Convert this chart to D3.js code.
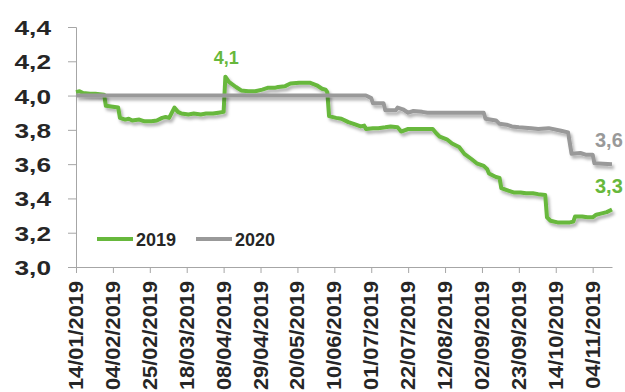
<!DOCTYPE html>
<html>
<head>
<meta charset="utf-8">
<script src="https://cdn.jsdelivr.net/npm/d3@7"></script>
<style>
  html, body { margin: 0; padding: 0; background: #fff; }
  svg { display: block; }
  text { font-family: "Liberation Sans", Arial, sans-serif; font-weight: bold; }
</style>
</head>
<body>
<svg id="chart" width="625" height="392"></svg>
<script>
// 2019 series
const dates2019 = ["2019-01-14","2019-01-16","2019-01-18","2019-01-22","2019-01-25","2019-01-30","2019-01-31","2019-02-04","2019-02-07","2019-02-08","2019-02-11","2019-02-13","2019-02-15","2019-02-19","2019-02-22","2019-02-26","2019-03-01","2019-03-04","2019-03-06","2019-03-08","2019-03-11","2019-03-13","2019-03-15","2019-03-19","2019-03-22","2019-03-26","2019-03-29","2019-04-02","2019-04-05","2019-04-08","2019-04-09","2019-04-11","2019-04-15","2019-04-18","2019-04-22","2019-04-26","2019-04-30","2019-05-03","2019-05-07","2019-05-09","2019-05-13","2019-05-16","2019-05-21","2019-05-27","2019-05-31","2019-06-03","2019-06-05","2019-06-06","2019-06-07","2019-06-11","2019-06-14","2019-06-18","2019-06-21","2019-06-25","2019-06-27","2019-06-28","2019-07-02","2019-07-05","2019-07-09","2019-07-12","2019-07-16","2019-07-18","2019-07-22","2019-07-26","2019-07-31","2019-08-05","2019-08-07","2019-08-09","2019-08-13","2019-08-16","2019-08-20","2019-08-23","2019-08-27","2019-08-30","2019-09-03","2019-09-05","2019-09-06","2019-09-10","2019-09-12","2019-09-13","2019-09-17","2019-09-20","2019-09-24","2019-09-27","2019-10-01","2019-10-04","2019-10-08","2019-10-09","2019-10-11","2019-10-15","2019-10-18","2019-10-22","2019-10-24","2019-10-25","2019-10-29","2019-11-01","2019-11-04","2019-11-06","2019-11-08","2019-11-12","2019-11-15"];
const values2019 = [4.02,4.025,4.015,4.01,4.01,4.005,3.94,3.935,3.93,3.87,3.86,3.865,3.855,3.86,3.85,3.85,3.855,3.87,3.875,3.87,3.93,3.905,3.895,3.89,3.895,3.89,3.895,3.895,3.9,3.905,4.11,4.08,4.05,4.03,4.025,4.025,4.035,4.045,4.045,4.05,4.055,4.07,4.075,4.075,4.06,4.04,4.035,4.02,3.88,3.87,3.865,3.845,3.835,3.82,3.825,3.805,3.81,3.81,3.815,3.82,3.815,3.79,3.805,3.805,3.805,3.805,3.78,3.76,3.745,3.72,3.70,3.66,3.63,3.605,3.59,3.57,3.545,3.525,3.52,3.46,3.445,3.435,3.435,3.43,3.43,3.425,3.42,3.29,3.27,3.26,3.26,3.26,3.265,3.295,3.295,3.29,3.29,3.305,3.31,3.32,3.335];

// 2020 series
const dates2020 = ["2019-01-14","2019-06-28","2019-07-01","2019-07-02","2019-07-08","2019-07-09","2019-07-15","2019-07-16","2019-07-19","2019-07-22","2019-07-25","2019-07-30","2019-08-02","2019-09-03","2019-09-04","2019-09-10","2019-09-12","2019-09-16","2019-09-19","2019-09-23","2019-09-30","2019-10-04","2019-10-10","2019-10-17","2019-10-21","2019-10-23","2019-10-28","2019-10-31","2019-11-04","2019-11-05","2019-11-15"];
const values2020 = [4.0,4.0,3.985,3.955,3.955,3.915,3.915,3.93,3.92,3.90,3.91,3.905,3.90,3.90,3.865,3.855,3.835,3.83,3.82,3.815,3.81,3.805,3.81,3.795,3.785,3.66,3.665,3.655,3.655,3.605,3.60];

const tickDates = ["2019-01-14","2019-02-04","2019-02-25","2019-03-18","2019-04-08","2019-04-29","2019-05-20","2019-06-10","2019-07-01","2019-07-22","2019-08-12","2019-09-02","2019-09-23","2019-10-14","2019-11-04"];
const yTicks = [3.0, 3.2, 3.4, 3.6, 3.8, 4.0, 4.2, 4.4];

const seriesNames = ["2019", "2020"];
const seriesColors = ["#67b83c", "#999999"];
const peakLabel = 4.1;
const endLabels = [3.3, 3.6];

const parse = d3.timeParse("%Y-%m-%d");
const fmtTick = d3.timeFormat("%d/%m/%Y");
const fmtNum = v => d3.format(".1f")(v).replace(".", ",");

const svg = d3.select("#chart");
const plotLeft = 76, plotRight = 612, plotTop = 27, plotBottom = 267;

const x = d3.scaleTime()
  .domain([parse("2019-01-14"), parse("2019-11-15")])
  .range([plotLeft, plotRight]);
const y = d3.scaleLinear().domain([3.0, 4.4]).range([plotBottom, plotTop]);

// soft shadow under the lines
const defs = svg.append("defs");
const f = defs.append("filter").attr("id", "shadow")
  .attr("x", "-5%").attr("y", "-20%").attr("width", "110%").attr("height", "140%");
f.append("feDropShadow").attr("dx", 2).attr("dy", 3).attr("stdDeviation", 1.6)
  .attr("flood-color", "#000").attr("flood-opacity", 0.3);

// Y axis
const yAxis = svg.append("g").attr("transform", `translate(${plotLeft},0)`)
  .call(d3.axisLeft(y).tickValues(yTicks).tickSize(8).tickFormat(""));
yAxis.select(".domain").attr("stroke", "#a6a6a6").attr("stroke-width", 1);
yAxis.selectAll(".tick line").attr("stroke", "#a6a6a6");

// Y labels (wide bold digits)
svg.append("g").selectAll("text").data(yTicks).join("text")
  .attr("transform", d => `translate(51,${y(d) + 8}) scale(1.25,1)`)
  .attr("text-anchor", "end")
  .attr("font-size", 21)
  .attr("fill", "#262626")
  .text(d => fmtNum(d));

// X axis
const xAxis = svg.append("g").attr("transform", `translate(0,${plotBottom})`)
  .call(d3.axisBottom(x).tickValues(tickDates.map(parse)).tickSize(6).tickSizeOuter(0).tickFormat(""));
xAxis.select(".domain").attr("stroke", "#a6a6a6").attr("stroke-width", 1);
xAxis.selectAll(".tick line").attr("stroke", "#a6a6a6");

// X labels, rotated to read upwards
svg.append("g").selectAll("text").data(tickDates.map(parse)).join("text")
  .attr("transform", d => `translate(${x(d) + 7},281) rotate(-90) scale(1.09,1)`)
  .attr("text-anchor", "end")
  .attr("font-size", 20)
  .attr("fill", "#262626")
  .text(d => fmtTick(d));

// Lines
const line = d3.line().x(d => x(d[0])).y(d => y(d[1]));
const s2019 = dates2019.map((d, i) => [parse(d), values2019[i]]);
const s2020 = dates2020.map((d, i) => [parse(d), values2020[i]]);

[s2019, s2020].forEach((s, i) => {
  svg.append("path").datum(s)
    .attr("d", line)
    .attr("fill", "none")
    .attr("stroke", seriesColors[i])
    .attr("stroke-width", 4)
    .attr("stroke-linejoin", "round")
    .attr("filter", "url(#shadow)");
});

// Value annotations
const peakDate = s2019.find(d => d[1] === d3.max(values2019))[0];
svg.append("text")
  .attr("x", x(peakDate) + 1).attr("y", 64)
  .attr("text-anchor", "middle").attr("font-size", 18)
  .attr("fill", seriesColors[0]).text(fmtNum(peakLabel));

svg.append("text")
  .attr("x", 595).attr("y", 193)
  .attr("font-size", 20).attr("fill", seriesColors[0]).text(fmtNum(endLabels[0]));
svg.append("text")
  .attr("x", 595).attr("y", 147)
  .attr("font-size", 20).attr("fill", seriesColors[1]).text(fmtNum(endLabels[1]));

// Legend
const legend = svg.append("g");
const legX = [97, 196];
seriesNames.forEach((name, i) => {
  legend.append("line")
    .attr("x1", legX[i]).attr("x2", legX[i] + 36)
    .attr("y1", 239).attr("y2", 239)
    .attr("stroke", seriesColors[i]).attr("stroke-width", 4);
  legend.append("text")
    .attr("x", legX[i] + 39).attr("y", 245.5)
    .attr("font-size", 18).attr("fill", "#262626").text(name);
});
</script>
</body>
</html>
